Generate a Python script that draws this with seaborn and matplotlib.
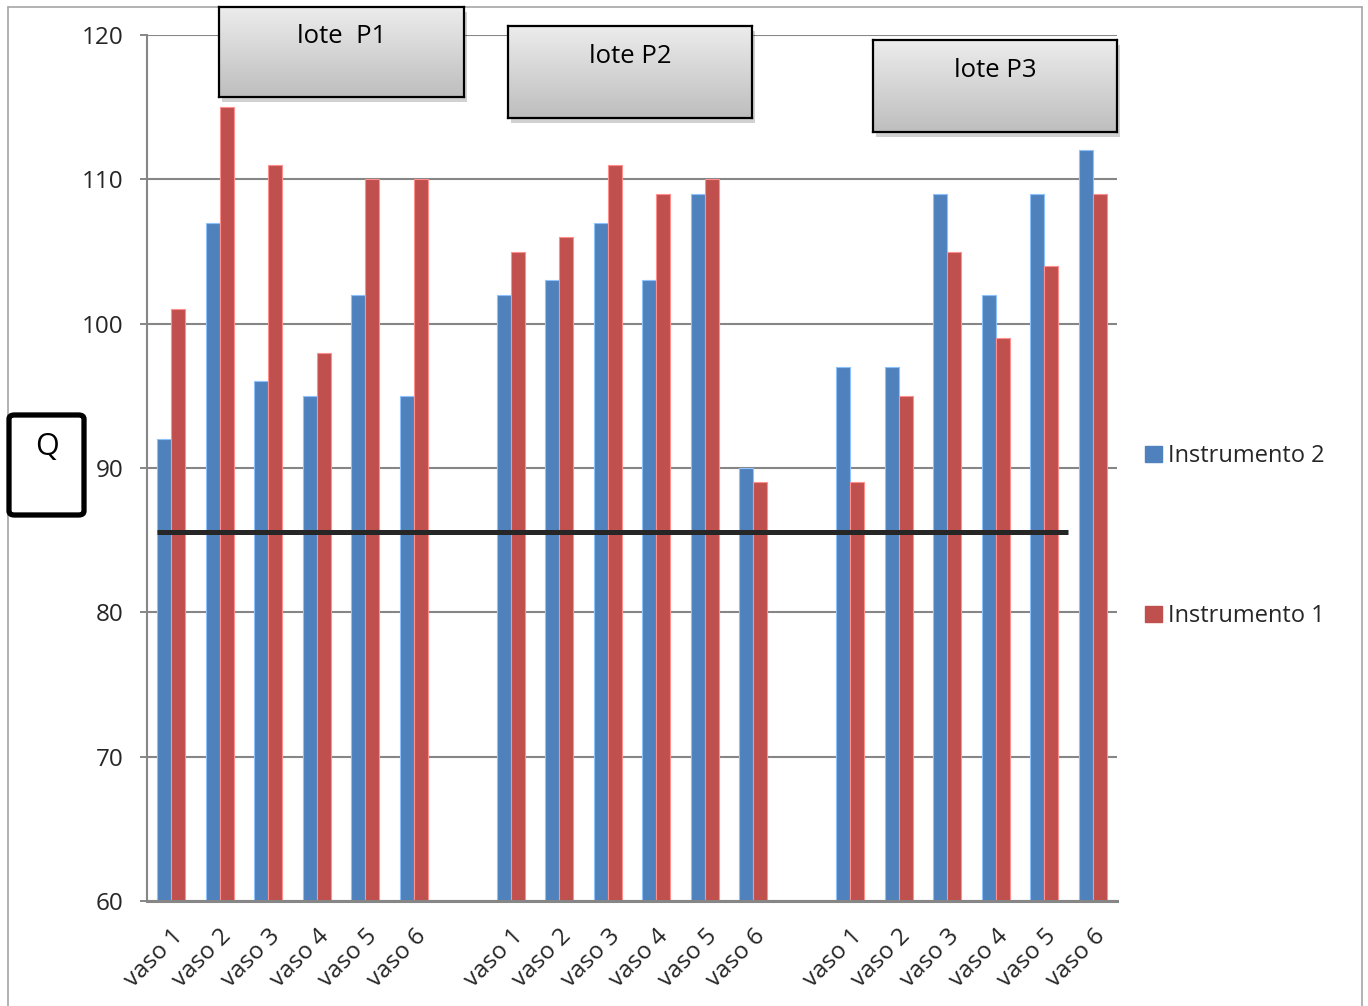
import numpy as np
import pandas as pd
import matplotlib
matplotlib.use("Agg")
import matplotlib.pyplot as plt
import matplotlib.transforms as mtransforms
import seaborn as sns
from matplotlib.patches import Rectangle, FancyBboxPatch, Patch
from matplotlib.colors import LinearSegmentedColormap

# ---------------- data ----------------
lotes = ["lote  P1", "lote P2", "lote P3"]
vasos = ["vaso 1", "vaso 2", "vaso 3", "vaso 4", "vaso 5", "vaso 6"]
series_names = ["Instrumento 2", "Instrumento 1"]
inst2_p1 = [92, 107, 96, 95, 102, 95]
inst2_p2 = [102, 103, 107, 103, 109, 90]
inst2_p3 = [97, 97, 109, 102, 109, 112]
inst1_p1 = [101, 115, 111, 98, 110, 110]
inst1_p2 = [105, 106, 111, 109, 110, 89]
inst1_p3 = [89, 95, 105, 99, 104, 109]
reference_level = 85.6
y_ticks = [60, 70, 80, 90, 100, 110, 120]
y_label = "Q"

inst2 = [inst2_p1, inst2_p2, inst2_p3]
inst1 = [inst1_p1, inst1_p2, inst1_p3]

rows = []
order = []
tick_labels = []
for gi, lote in enumerate(lotes):
    for vi, vaso in enumerate(vasos):
        key = f"{lote}|{vaso}"
        order.append(key)
        tick_labels.append(vaso)
        rows.append({"key": key, "serie": series_names[0], "Q": inst2[gi][vi]})
        rows.append({"key": key, "serie": series_names[1], "Q": inst1[gi][vi]})
    if gi < len(lotes) - 1:
        order.append(f"gap{gi}")
        tick_labels.append("")
df = pd.DataFrame(rows)

# ---------------- style ----------------
W, H = 1368, 1006
sns.set_theme(style="white")
plt.rcParams["font.family"] = ["Open Sans", "DejaVu Sans"]

def fx(x):
    return x / W

def fy(y):
    return 1 - y / H

fig = plt.figure(figsize=(W / 100, H / 100), dpi=100)
fig.patch.set_facecolor("white")

ax = fig.add_axes([fx(147), fy(901), fx(1117) - fx(147), fy(35) - fy(901)])

blue = "#4F81BD"
red = "#C0504D"
sns.barplot(data=df, x="key", y="Q", hue="serie", order=order,
            hue_order=series_names, palette=[blue, red], width=0.58,
            saturation=1, ax=ax, legend=False, linewidth=0)

for p in ax.patches:
    fc = p.get_facecolor()
    light = tuple(min(1, c + 0.25) for c in fc[:3])
    p.set_edgecolor(light)
    p.set_linewidth(0.8)

ax.set_ylim(60, 120)
ax.set_yticks(y_ticks)
ax.set_xlim(-0.5, len(order) - 0.5)
ax.set_xticks(range(len(order)))
ax.set_xticklabels(tick_labels, rotation=45, ha="right",
                   rotation_mode="anchor", fontsize=17.5)
shift = mtransforms.ScaledTranslation(-9 / 100, 0, fig.dpi_scale_trans)
for lab in ax.get_xticklabels():
    lab.set_transform(lab.get_transform() + shift)
ax.set_xlabel("")
ax.set_ylabel("")
ax.tick_params(axis="x", length=0, pad=17)
ax.tick_params(axis="y", length=5, width=1.4, color="#868686",
               labelsize=17.5, pad=12, direction="out", left=True)
ax.yaxis.grid(True, color="#868686", linewidth=1.5)
ax.set_axisbelow(True)
for s in ["top", "right"]:
    ax.spines[s].set_visible(False)
ax.spines["left"].set_color("#868686")
ax.spines["left"].set_linewidth(1.5)
ax.spines["bottom"].set_color("#868686")
ax.spines["bottom"].set_linewidth(2.2)

# reference line
ax.plot([-0.29, 18.49], [reference_level, reference_level],
        color="#262626", linewidth=3.6, solid_capstyle="butt", zorder=5)

# legend
handles = [Patch(facecolor=blue, edgecolor=blue),
           Patch(facecolor=red, edgecolor=red)]
fig.legend(handles=handles, labels=series_names, loc="upper left",
           bbox_to_anchor=(fx(1136), fy(435)), frameon=False,
           fontsize=17, labelspacing=5.75, handlelength=0.7,
           handleheight=0.7, handletextpad=0.25, borderaxespad=0)

# outer chart frame
for (x0, y0, x1, y1) in [(8, 7, 1362, 7), (8, 7, 8, 1010), (1362, 7, 1362, 1010)]:
    fig.add_artist(plt.Line2D([fx(x0), fx(x1)], [fy(y0), fy(y1)],
                              transform=fig.transFigure, color="#a6a6a6",
                              linewidth=1.2))

# lote boxes
grad = np.linspace(0, 1, 100).reshape(-1, 1)
cmap = LinearSegmentedColormap.from_list("g", ["#ececec", "#bebebe"])
boxes = [(219, 7, 464, 97), (508, 26, 752, 118), (873, 40, 1117, 132)]
for lote, (x0, y0, x1, y1) in zip(lotes, boxes):
    fig.add_artist(Rectangle((fx(x0 + 3), fy(y1 + 5)), fx(x1 - x0), fy(y0) - fy(y1),
                             transform=fig.transFigure, facecolor="#000000",
                             alpha=0.18, edgecolor="none", zorder=9))
    bax = fig.add_axes([fx(x0), fy(y1), fx(x1) - fx(x0), fy(y0) - fy(y1)], zorder=10)
    bax.imshow(grad, aspect="auto", cmap=cmap, extent=[0, 1, 0, 1], origin="upper")
    bax.set_xlim(0, 1)
    bax.set_ylim(0, 1)
    bax.set_xticks([])
    bax.set_yticks([])
    for s in bax.spines.values():
        s.set_color("black")
        s.set_linewidth(1.6)
    bax.text(0.5, 0.67, lote, ha="center", va="center", fontsize=18.5, color="black")

# Q box
fig.add_artist(FancyBboxPatch((fx(9), fy(515)), fx(75), fy(415) - fy(515),
                              boxstyle="round,pad=0,rounding_size=0.004",
                              transform=fig.transFigure, facecolor="white",
                              edgecolor="black", linewidth=3.8, zorder=10))
fig.text(fx(47), fy(447), y_label, ha="center", va="center", fontsize=22,
         color="black", zorder=11)

fig.savefig("out.png", dpi=100)
